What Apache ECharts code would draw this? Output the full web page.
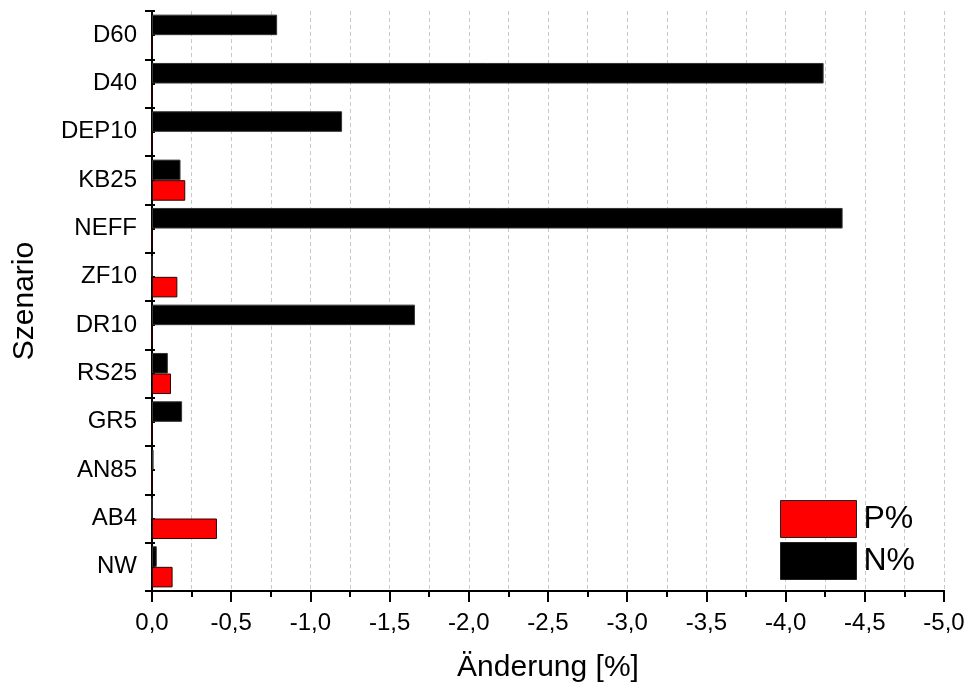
<!DOCTYPE html>
<html>
<head>
<meta charset="utf-8">
<script src="https://cdn.jsdelivr.net/npm/echarts@6/dist/echarts.min.js"></script>
<style>
html,body{margin:0;padding:0;background:#fff;}
#chart{width:968px;height:691px;}
</style>
</head>
<body>
<div id="chart"></div>
<script>
// Data (bottom to top)
const categories = ['NW','AB4','AN85','GR5','RS25','DR10','ZF10','NEFF','KB25','DEP10','D40','D60'];
const nValues = [-0.03, 0, -0.01, -0.19, -0.10, -1.66, 0, -4.36, -0.18, -1.20, -4.24, -0.79];
const pValues = [-0.13, -0.41, 0, 0, -0.12, 0, -0.16, 0, -0.21, 0, 0, 0];
const seriesNames = ['N%', 'P%'];
const legendOrder = ['P%', 'N%'];
const xTitle = 'Änderung [%]';
const yTitle = 'Szenario';

const FONT = '"Liberation Sans", Arial, sans-serif';
const chart = echarts.init(document.getElementById('chart'), null, {renderer: 'canvas'});

chart.setOption({
  animation: false,
  backgroundColor: '#fff',
  textStyle: {fontFamily: FONT, color: '#000'},
  grid: {left: 152, right: 24, top: 11, bottom: 100, containLabel: false},
  legend: {
    data: legendOrder,
    orient: 'vertical',
    left: 780, top: 500,
    itemWidth: 76, itemHeight: 37, itemGap: 4,
    icon: 'rect',
    textStyle: {fontSize: 32, fontFamily: FONT, color: '#000', padding: [0,0,0,2]},
    itemStyle: {borderColor: '#222', borderWidth: 1},
    padding: 0,
    selectedMode: false
  },
  xAxis: [{
    type: 'value',
    min: -5, max: 0, interval: 0.5,
    inverse: true,
    position: 'bottom',
    axisLine: {show: true, onZero: false, lineStyle: {color: '#000', width: 2}},
    axisTick: {show: true, length: 11, lineStyle: {color: '#000', width: 2}},
    minorTick: {show: true, splitNumber: 2, length: 6, lineStyle: {color: '#000', width: 2}},
    splitLine: {show: true, lineStyle: {color: '#c8c8c8', type: [4, 3], width: 1}},
    minorSplitLine: {show: true, lineStyle: {color: '#c8c8c8', type: [4, 3], width: 1}},
    axisLabel: {fontSize: 24, color: '#000', fontFamily: FONT, margin: 20,
      formatter: v => (Math.abs(v) < 1e-9 ? 0 : v).toFixed(1).replace('.', ',')},
    name: xTitle, nameLocation: 'middle', nameGap: 62,
    nameTextStyle: {fontSize: 30, color: '#000', fontFamily: FONT}
  }, {
    type: 'value', min: 0, max: 1, position: 'top',
    axisLine: {show: true, lineStyle: {color: '#000', width: 2}},
    axisTick: {show: false}, axisLabel: {show: false}, splitLine: {show: false}
  }],
  yAxis: [{
    type: 'category',
    data: categories,
    position: 'left',
    axisLine: {show: true, lineStyle: {color: '#000', width: 2}},
    axisTick: {show: true, length: 7, alignWithLabel: false, lineStyle: {color: '#000', width: 2}},
    axisLabel: {fontSize: 24, color: '#000', fontFamily: FONT, margin: 15},
    splitLine: {show: false},
    name: yTitle, nameLocation: 'middle', nameGap: 112, nameRotate: 90,
    nameTextStyle: {fontSize: 30, color: '#000', fontFamily: FONT}
  }, {
    type: 'value', min: 0, max: 24, interval: 1, position: 'right',
    axisLine: {show: true, lineStyle: {color: '#000', width: 2}},
    axisTick: {show: true, length: 3, lineStyle: {color: '#000', width: 2}},
    axisLabel: {show: false}, splitLine: {show: false}
  }],
  series: [{
    name: seriesNames[0], type: 'bar', data: nValues,
    xAxisIndex: 0, yAxisIndex: 0,
    barGap: '0%', barCategoryGap: '15%',
    itemStyle: {color: '#000', borderColor: '#333', borderWidth: 1}
  }, {
    name: seriesNames[1], type: 'bar', data: pValues,
    xAxisIndex: 0, yAxisIndex: 0,
    barGap: '0%', barCategoryGap: '15%',
    itemStyle: {color: '#ff0000', borderColor: '#300', borderWidth: 1}
  }]
});
</script>
</body>
</html>
